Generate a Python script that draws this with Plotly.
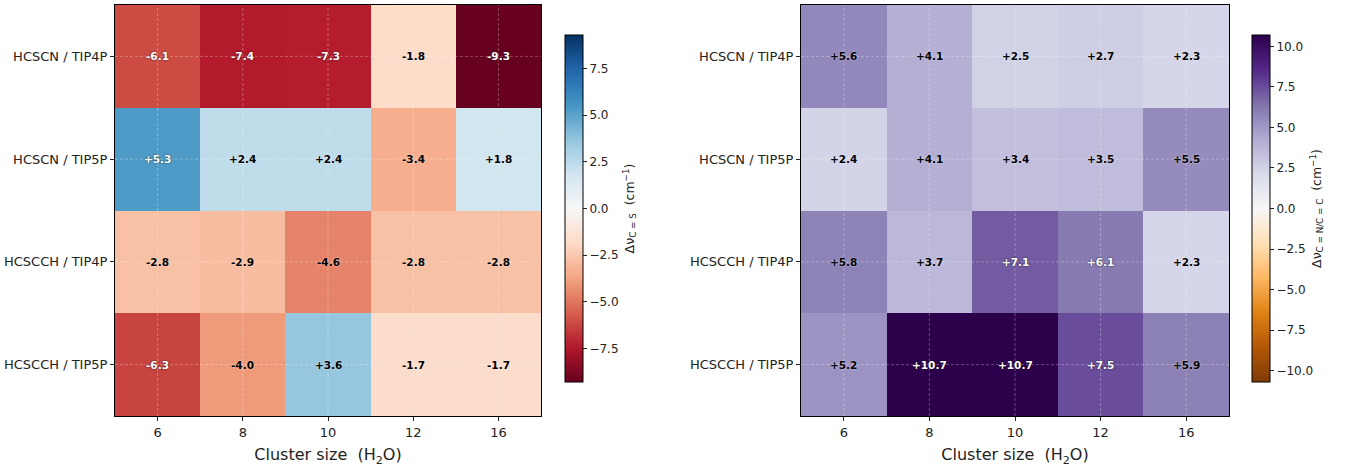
import plotly.graph_objects as go

# Cluster sizes (number of water molecules) and solute / water-model rows
cluster_sizes = ["6", "8", "10", "12", "16"]
systems = ["HCSCN / TIP4P", "HCSCN / TIP5P", "HCSCCH / TIP4P", "HCSCCH / TIP5P"]

# Frequency shifts of the C=S stretch (cm^-1)
shift_cs = [
    [-6.1, -7.4, -7.3, -1.8, -9.3],
    [5.3, 2.4, 2.4, -3.4, 1.8],
    [-2.8, -2.9, -4.6, -2.8, -2.8],
    [-6.3, -4.0, 3.6, -1.7, -1.7],
]

# Frequency shifts of the C≡N / C≡C stretch (cm^-1)
shift_cn = [
    [5.6, 4.1, 2.5, 2.7, 2.3],
    [2.4, 4.1, 3.4, 3.5, 5.5],
    [5.8, 3.7, 7.1, 6.1, 2.3],
    [5.2, 10.7, 10.7, 7.5, 5.9],
]

cb_ticks_cs = [-7.5, -5.0, -2.5, 0.0, 2.5, 5.0, 7.5]
cb_ticks_cn = [-10.0, -7.5, -5.0, -2.5, 0.0, 2.5, 5.0, 7.5, 10.0]

# ColorBrewer diverging palettes (low -> high)
RDBU = ["#67001f", "#b2182b", "#d6604d", "#f4a582", "#fddbc7", "#f7f7f7",
        "#d1e5f0", "#92c5de", "#4393c3", "#2166ac", "#053061"]
PUOR = ["#7f3b08", "#b35806", "#e08214", "#fdb863", "#fee0b6", "#f7f7f7",
        "#d8daeb", "#b2abd2", "#8073ac", "#542788", "#2d004b"]


def scale(colors):
    n = len(colors) - 1
    return [[i / n, c] for i, c in enumerate(colors)]


def fmt_tick(v):
    s = f"{abs(v):.1f}"
    return ("\u2212" + s) if v < 0 else s


W, H = 1357, 472
FONT = "DejaVu Sans"
TXT = "#222222"
GRID = dict(color="rgba(255,255,255,0.4)", width=0.7, dash="3px,2px")

panels = [
    dict(z=shift_cs, cs=RDBU, ticks=cb_ticks_cs, x0=115, x1=541, cbx=555,
         title="\u0394\u03bd<sub>C = S</sub>  (cm<sup>\u22121</sup>)"),
    dict(z=shift_cn, cs=PUOR, ticks=cb_ticks_cn, x0=801, x1=1229, cbx=1242,
         title="\u0394\u03bd<sub>C = N/C = C</sub>  (cm<sup>\u22121</sup>)"),
]

y_top, y_bot = 5, 416
cb_top, cb_bot = 25, 392

# cells are placed on integer positions; ticks carry the category names
col_pos = list(range(len(cluster_sizes)))
row_pos = list(range(len(systems)))

fig = go.Figure()
annotations = []
shapes = []

for k, p in enumerate(panels, start=1):
    xa = "x" if k == 1 else f"x{k}"
    ya = "y" if k == 1 else f"y{k}"
    vmax = max(abs(v) for row in p["z"] for v in row)
    fig.add_trace(go.Heatmap(
        z=p["z"], x=col_pos, y=row_pos,
        colorscale=scale(p["cs"]), zmin=-vmax, zmax=vmax,
        xaxis=xa, yaxis=ya,
        colorbar=dict(
            x=p["cbx"] / W, xanchor="left",
            y=1 - (cb_top + cb_bot) / 2 / H, yanchor="middle",
            len=(cb_bot - cb_top) / H, lenmode="fraction",
            thickness=18, thicknessmode="pixels",
            outlinewidth=1, outlinecolor="#000000",
            tickvals=p["ticks"], ticktext=[fmt_tick(t) for t in p["ticks"]],
            ticks="outside", ticklen=4, tickwidth=1, tickcolor=TXT,
            tickfont=dict(family=FONT, size=12, color=TXT),
            title=dict(text=p["title"], side="right",
                       font=dict(family=FONT, size=12.5, color=TXT)),
        ),
    ))

    axis_common = dict(
        showline=True, linecolor="#000000", linewidth=1,
        mirror=True, ticks="outside", ticklen=4, tickcolor=TXT,
        showgrid=False, zeroline=False,
        tickfont=dict(family=FONT, size=13, color=TXT),
    )
    fig.update_layout({
        ("xaxis" if k == 1 else f"xaxis{k}"): dict(
            axis_common, domain=[p["x0"] / W, p["x1"] / W], anchor=ya,
            tickvals=col_pos, ticktext=cluster_sizes,
            range=[-0.5, len(col_pos) - 0.5],
            title=dict(text="Cluster size  (H<sub>2</sub>O)", standoff=10,
                       font=dict(family=FONT, size=16, color=TXT)),
        ),
        ("yaxis" if k == 1 else f"yaxis{k}"): dict(
            axis_common, domain=[1 - y_bot / H, 1 - y_top / H], anchor=xa,
            tickvals=row_pos, ticktext=systems,
            range=[len(row_pos) - 0.5, -0.5],
        ),
    })

    # dashed guide lines through the cell centres
    for j in col_pos:
        shapes.append(dict(type="line", xref=xa, yref=f"{ya} domain",
                           x0=j, x1=j, y0=0, y1=1, layer="above", line=GRID))
    for i in row_pos:
        shapes.append(dict(type="line", xref=f"{xa} domain", yref=ya,
                           x0=0, x1=1, y0=i, y1=i, layer="above", line=GRID))

    # value labels in every cell
    for i in row_pos:
        for j in col_pos:
            v = p["z"][i][j]
            light = abs(v) > 0.56 * vmax
            annotations.append(dict(
                x=j, y=i, xref=xa, yref=ya,
                text=f"{v:+.1f}" if v > 0 else f"{v:.1f}",
                showarrow=False,
                font=dict(family=FONT, size=10.5, weight="bold",
                          color="#ffffff" if light else "#000000",
                          shadow=("0px 0px 2px rgba(0,0,0,0.8)" if light
                                  else "0px 0px 2px rgba(255,255,255,0.6)")),
            ))

fig.update_layout(
    width=W, height=H,
    margin=dict(l=0, r=0, t=0, b=0),
    paper_bgcolor="#ffffff", plot_bgcolor="#ffffff",
    font=dict(family=FONT, color=TXT),
    annotations=annotations, shapes=shapes,
    showlegend=False,
)

fig.write_html("out.html")
